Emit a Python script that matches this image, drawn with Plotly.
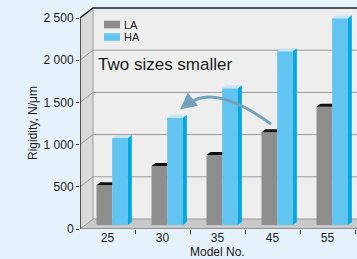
import plotly.graph_objects as go

# ---------------- data ----------------
models = ["25", "30", "35", "45", "55"]
la_values = [470, 700, 830, 1100, 1400]
ha_values = [1030, 1270, 1620, 2060, 2450]
series_names = ["LA", "HA"]
y_ticks = [0, 500, 1000, 1500, 2000, 2500]
x_title = "Model No."
y_title = "Rigidity, N/μm"
note_text = "Two sizes smaller"

# ---------------- styling / geometry ----------------
W, H = 357, 259
ML, MT, MB = 80, 6, 30
BOTTOM_PX = H - MB          # pixel row of value 0 (front)
PXU = 211 / 2500            # pixels per value unit
CAT = 55                    # pixels per category
PLOT_H = BOTTOM_PX - MT
YMAX = PLOT_H / PXU
XMIN = -0.5
XMAX = XMIN + (W - ML) / CAT

def X(px):
    return (px - ML) / CAT + XMIN

def Y(py):
    return (BOTTOM_PX - py) / PXU

def PY(py):
    return (BOTTOM_PX - py) / PLOT_H

DXB = 13 / CAT      # depth of the box (x)
DYB = 10 / PXU      # depth of the box (y)
LIFT = 4 / PXU      # bars sit slightly behind the front edge
SX = 4 / CAT        # bar side depth
SY = 3 / PXU        # bar top depth
BW = 0.285
LA_OFF = -0.2
HA_OFF = 0.085

C_BG = "#e6f2fb"
C_BACK = "#eeeeee"
C_LEFT = "#d9d9d9"
C_FLOOR = "#c9c9c9"
C_GRID = "#9a9a9a"
C_LA = "#8d8d8d"
C_LA_TOP = "#111111"
C_HA = "#62c4f0"
C_HA_SIDE = "#00a7e6"
C_HA_TOP = "#c7e5f5"
C_ARROW = "#72a2bf"
FONT = "Liberation Sans, Arial, sans-serif"

idx = list(range(len(models)))

fig = go.Figure()

# front faces of the bars
fig.add_trace(go.Bar(x=idx, y=la_values, base=LIFT, offset=LA_OFF, width=BW,
                     marker=dict(color=C_LA, line=dict(width=0)),
                     name=series_names[0], showlegend=False))
fig.add_trace(go.Bar(x=idx, y=ha_values, base=LIFT, offset=HA_OFF, width=BW,
                     marker=dict(color=C_HA, line=dict(width=0)),
                     name=series_names[1], showlegend=False))

def polys(values, off, kind):
    xs, ys = [], []
    for i, v in zip(idx, values):
        xl = i + off
        xr = xl + BW
        t = LIFT + v
        if kind == "side":
            px = [xr, xr, xr + SX, xr + SX, xr]
            py = [LIFT, t, t + SY, LIFT + SY, LIFT]
        elif kind == "top":
            px = [xl, xr, xr + SX, xl + SX, xl]
            py = [t, t, t + SY, t + SY, t]
        else:  # top clipped at right edge (hidden behind neighbour)
            px = [xl, xr, xr, xl + SX, xl]
            py = [t, t, t + SY, t + SY, t]
        xs += px + [None]
        ys += py + [None]
    return xs, ys

for vals, off, kind, col in [
    (la_values, LA_OFF, "topclip", C_LA_TOP),
    (ha_values, HA_OFF, "side", C_HA_SIDE),
    (ha_values, HA_OFF, "top", C_HA_TOP),
]:
    xs, ys = polys(vals, off, kind)
    fig.add_trace(go.Scatter(x=xs, y=ys, mode="lines", fill="toself",
                             fillcolor=col, line=dict(width=0),
                             hoverinfo="skip", showlegend=False))

# ---------------- 3D box (walls, floor, grid) ----------------
shapes = []
xb = XMIN + DXB
top = y_ticks[-1]
shapes.append(dict(type="rect", xref="x", yref="y", x0=xb, x1=XMAX,
                   y0=DYB, y1=top + DYB, fillcolor=C_BACK, line=dict(width=0),
                   layer="below"))
shapes.append(dict(type="path", xref="x", yref="y",
                   path=f"M{XMIN},0 L{XMIN},{top} L{xb},{top + DYB} L{xb},{DYB} Z",
                   fillcolor=C_LEFT, line=dict(width=0), layer="below"))
shapes.append(dict(type="path", xref="x", yref="y",
                   path=f"M{XMIN},0 L{xb},{DYB} L{XMAX},{DYB} L{XMAX},0 Z",
                   fillcolor=C_FLOOR, line=dict(width=0), layer="below"))
for v in y_ticks[1:-1]:
    shapes.append(dict(type="line", xref="x", yref="y", x0=xb, x1=XMAX,
                       y0=v + DYB, y1=v + DYB, line=dict(color=C_GRID, width=1),
                       layer="below"))
    shapes.append(dict(type="line", xref="x", yref="y", x0=XMIN, x1=xb,
                       y0=v, y1=v + DYB, line=dict(color=C_GRID, width=1),
                       layer="below"))
# inner edges
shapes.append(dict(type="line", xref="x", yref="y", x0=xb, x1=XMAX, y0=DYB, y1=DYB,
                   line=dict(color=C_GRID, width=1), layer="below"))
shapes.append(dict(type="line", xref="x", yref="y", x0=xb, x1=xb, y0=DYB, y1=top + DYB,
                   line=dict(color=C_GRID, width=1), layer="below"))
shapes.append(dict(type="line", xref="x", yref="y", x0=XMIN, x1=xb, y0=0, y1=DYB,
                   line=dict(color=C_GRID, width=1), layer="below"))
# dark outer edges
shapes.append(dict(type="path", xref="x", yref="y",
                   path=f"M{XMIN},0 L{XMIN},{top} L{xb},{top + DYB} L{XMAX},{top + DYB}",
                   line=dict(color="#222222", width=1.5), layer="above"))
shapes.append(dict(type="line", xref="x", yref="y", x0=XMIN, x1=XMAX, y0=0, y1=0,
                   line=dict(color="#555555", width=1.2), layer="above"))

# curved arrow
p0 = (X(271), Y(124))
c1 = (X(215), Y(83))
p2 = (X(188), Y(104))
shapes.append(dict(type="path", xref="x", yref="y",
                   path=f"M{p0[0]},{p0[1]} Q{c1[0]},{c1[1]} {p2[0]},{p2[1]}",
                   line=dict(color=C_ARROW, width=3), layer="above"))

annotations = [
    dict(x=X(180), y=Y(109.5), xref="x", yref="y", ax=10, ay=-8, text="",
         showarrow=True, arrowhead=2, arrowsize=1.1, arrowwidth=3,
         arrowcolor=C_ARROW),
    dict(x=X(96), y=Y(64), xref="x", yref="y", text=note_text, showarrow=False,
         xanchor="left", yanchor="middle",
         font=dict(family=FONT, size=17, color="#1a1a1a")),
    dict(x=XMIN + 2.5, y=PY(252), xref="x", yref="paper", text=x_title,
         showarrow=False, xanchor="center", yanchor="middle",
         font=dict(family=FONT, size=12, color="#1a1a1a")),
    dict(x=0, y=PY(123), xref="paper", yref="paper", xshift=33 - ML,
         text=y_title, textangle=-90,
         showarrow=False, xanchor="center", yanchor="middle",
         font=dict(family=FONT, size=12, color="#1a1a1a")),
]

# legend (drawn from the series names and colours)
for name, col, cy in [(series_names[0], C_LA, 24.5), (series_names[1], C_HA, 37)]:
    shapes.append(dict(type="rect", xref="x", yref="y", x0=X(104), x1=X(120),
                       y0=Y(cy + 3.8), y1=Y(cy - 3.8), fillcolor=col,
                       line=dict(width=0), layer="above"))
    annotations.append(dict(x=X(122), y=Y(cy), xref="x", yref="y", text=name,
                            showarrow=False, xanchor="left", yanchor="middle",
                            font=dict(family=FONT, size=11, color="#1a1a1a")))

fig.update_layout(
    width=W, height=H,
    margin=dict(l=ML, r=0, t=MT, b=MB, pad=0),
    paper_bgcolor=C_BG, plot_bgcolor="rgba(0,0,0,0)",
    barmode="overlay", showlegend=False,
    separators=". ",
    shapes=shapes, annotations=annotations,
    font=dict(family=FONT, size=12, color="#1a1a1a"),
    xaxis=dict(range=[XMIN, XMAX], tickvals=idx, ticktext=models, ticks="",
               showgrid=False, zeroline=False, showline=False,
               tickfont=dict(size=12), fixedrange=True),
    xaxis2=dict(range=[XMIN, XMAX], overlaying="x", anchor="y", side="bottom",
                tickvals=[i + 0.5 for i in idx], ticks="outside", ticklen=4,
                tickcolor="#333333", showticklabels=False, showgrid=False,
                zeroline=False, showline=False, fixedrange=True),
    yaxis=dict(range=[0, YMAX], tickvals=y_ticks, tickformat=",d", ticks="outside",
               ticklen=3, tickcolor="#333333", showgrid=False, zeroline=False,
               showline=False, tickfont=dict(size=12), fixedrange=True),
)
# dummy trace to activate xaxis2 ticks
fig.add_trace(go.Scatter(x=[None], y=[None], xaxis="x2", yaxis="y",
                         showlegend=False, hoverinfo="skip"))

fig.write_html(
    "out.html",
    config={"displayModeBar": False},
    post_script=f"document.body.style.margin='0';document.body.style.background='{C_BG}';",
)
